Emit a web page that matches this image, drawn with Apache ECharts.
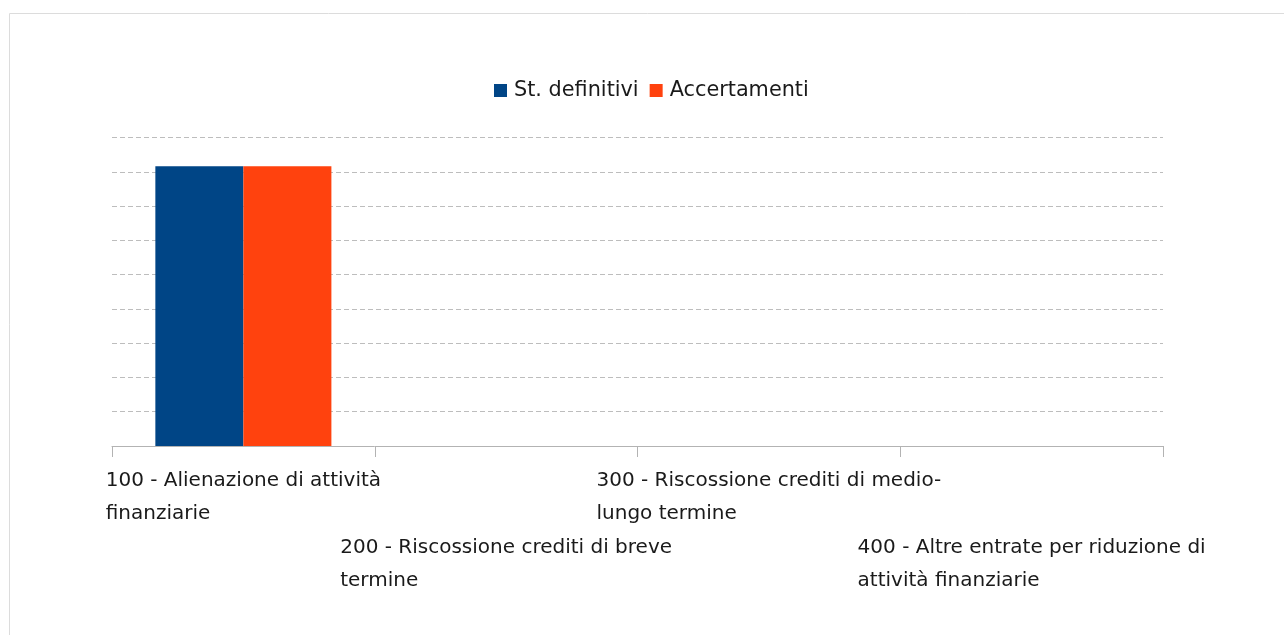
<!DOCTYPE html>
<html>
<head>
<meta charset="utf-8">
<script src="https://cdn.jsdelivr.net/npm/echarts@6/dist/echarts.min.js"></script>
<style>
html,body{margin:0;padding:0;background:#fff;}
#chart{width:1284px;height:635px;}
</style>
</head>
<body>
<div id="chart"></div>
<script>
const categories = [
  ["100 - Alienazione di attività", "finanziarie"],
  ["200 - Riscossione crediti di breve", "termine"],
  ["300 - Riscossione crediti di medio-", "lungo termine"],
  ["400 - Altre entrate per riduzione di", "attività finanziarie"]
];
const seriesNames = ["St. definitivi", "Accertamenti"];
const stDefinitivi = [8.17, 0, 0, 0];
const accertamenti = [8.17, 0, 0, 0];

const chart = echarts.init(document.getElementById('chart'));
const FONT = '"DejaVu Sans"';
const FS = 20;
chart.setOption({
  animation: false,
  color: ['#004586', '#ff420e'],
  graphic: [{
    type: 'rect',
    shape: {x: 9.5, y: 13.5, width: 1400, height: 800},
    style: {fill: 'none', stroke: '#dcdcdc', lineWidth: 1},
    silent: true
  }],
  legend: {
    top: 80,
    left: 494,
    padding: 0,
    itemWidth: 13,
    itemHeight: 13,
    itemGap: 11,
    icon: 'rect',
    textStyle: {fontFamily: FONT, fontSize: 20.8, color: '#1a1a1a', padding: [0, 0, 0, 2]},
    data: seriesNames
  },
  grid: {left: 112, right: 121, top: 137.7, bottom: 189, containLabel: false},
  xAxis: {
    type: 'category',
    data: categories.map((c, i) => i),
    axisLine: {lineStyle: {color: '#b3b3b3', width: 1}},
    axisTick: {show: true, length: 11, lineStyle: {color: '#b3b3b3'}},
    axisLabel: {
      interval: 0,
      margin: 18,
      formatter: function (v, idx) {
        const c = categories[idx];
        const pre = idx % 2 === 1 ? '{e|}\n{e|}\n' : '';
        return pre + '{a|' + c[0] + '}\n{a|' + c[1] + '}';
      },
      rich: {
        a: {fontFamily: FONT, fontSize: FS, color: '#1a1a1a', align: 'left', lineHeight: 33},
        e: {fontSize: FS, lineHeight: 33.5}
      }
    }
  },
  yAxis: {
    type: 'value',
    min: 0,
    max: 9,
    interval: 1,
    axisLabel: {show: false},
    axisLine: {show: false},
    axisTick: {show: false},
    splitLine: {lineStyle: {color: '#bdbdbd', type: [5, 3], width: 1}}
  },
  series: [
    {name: seriesNames[0], type: 'bar', data: stDefinitivi, barWidth: '33.5%', barGap: '0%'},
    {name: seriesNames[1], type: 'bar', data: accertamenti, barWidth: '33.5%', barGap: '0%'}
  ]
});
</script>
</body>
</html>
